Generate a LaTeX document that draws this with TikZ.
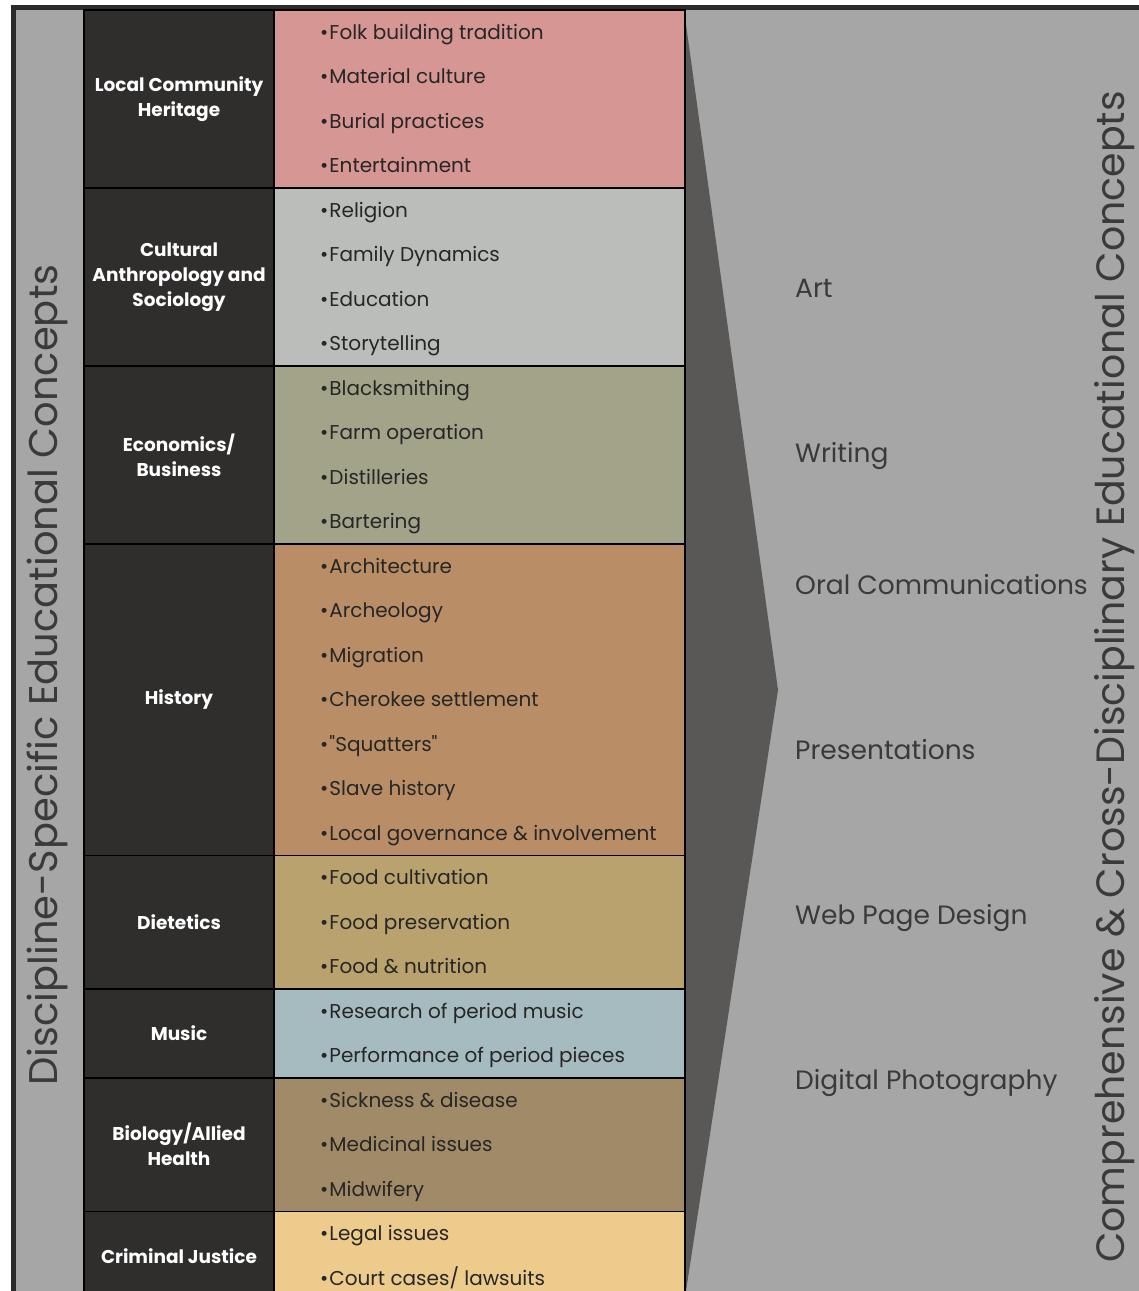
\documentclass[tikz,border=0pt]{standalone}
\usepackage{fontspec}
\setmainfont{Poppins}
\usetikzlibrary{positioning}

\definecolor{framedark}{HTML}{2B2B2B}
\definecolor{sidegray}{HTML}{A6A6A6}
\definecolor{chevgray}{HTML}{595857}
\definecolor{catdark}{HTML}{2F2E2D}
\definecolor{itemtext}{HTML}{262626}
\definecolor{labeltext}{HTML}{3A3A3A}
\definecolor{bandpink}{HTML}{D69794}
\definecolor{bandgray}{HTML}{BBBDBB}
\definecolor{bandolive}{HTML}{A3A38A}
\definecolor{bandtan}{HTML}{B98E66}
\definecolor{bandgold}{HTML}{B9A26D}
\definecolor{bandblue}{HTML}{A5BBC0}
\definecolor{bandbrown}{HTML}{A08A68}
\definecolor{bandsand}{HTML}{EDCB8D}

\tikzset{
  catlabel/.style={align=center, text=white, font=\fontsize{18.5}{25}\selectfont\bfseries},
  item/.style={anchor=west, inner sep=0pt, text height=14pt, text depth=5pt,
    text=itemtext, font=\fontsize{20}{22}\selectfont},
  crosslabel/.style={anchor=west, inner sep=0pt, text height=18pt, text depth=6pt,
    text=labeltext, font=\fontsize{26.5}{28}\selectfont},
  sidetitle/.style={rotate=90, inner sep=0pt, text=labeltext, font=\fontsize{40}{42}\selectfont}
}

\begin{document}
\begin{tikzpicture}[x=1pt,y=-1pt]
  \useasboundingbox (0,0) rectangle (1139,1291);
  \begin{scope}
    \clip (0,0) rectangle (1139,1291);

    % Frame and grey backgrounds
    \fill[framedark] (11,5) rectangle (1139,1291);
    \fill[sidegray] (16,10) rectangle (84,1291);
    \fill[sidegray] (685,10) rectangle (1139,1291);

    % Chevron between the two halves
    \fill[chevgray] (680,10) -- (684,10) -- (778,690) -- (686,1291) -- (680,1291) -- cycle;

    % Discipline rows: first item / last item / colour / name / label
    \foreach \a/\b/\col/\nm/\lbl in {
        0/4/bandpink/local/{Local Community\\Heritage},
        4/8/bandgray/cult/{Cultural\\Anthropology and\\Sociology},
        8/12/bandolive/econ/{Economics/\\Business},
        12/19/bandtan/hist/{History},
        19/22/bandgold/diet/{Dietetics},
        22/24/bandblue/music/{Music},
        24/27/bandbrown/bio/{Biology/Allied\\Health},
        27/29/bandsand/crim/{Criminal Justice}}{
      \filldraw[fill=catdark, draw=black, line width=1.5pt]
        (84,{10+\a*44.5}) rectangle (274,{10+\b*44.5});
      \filldraw[fill=\col, draw=black, line width=1.5pt]
        (274,{10+\a*44.5}) rectangle (685,{10+\b*44.5});
      \node[catlabel] (\nm) at (179,{10+(\a+\b)/2*44.5}) {\lbl};
    }

    % Topic items
    \foreach \txt [count=\i from 0] in {
        Folk building tradition, Material culture, Burial practices, Entertainment,
        Religion, Family Dynamics, Education, Storytelling,
        Blacksmithing, Farm operation, Distilleries, Bartering,
        Architecture, Archeology, Migration, Cherokee settlement,
        \textquotedbl Squatters\textquotedbl, Slave history, Local governance \& involvement,
        Food cultivation, Food preservation, Food \& nutrition,
        Research of period music, Performance of period pieces,
        Sickness \& disease, Medicinal issues, Midwifery,
        Legal issues, Court cases/ lawsuits}{
      \node[item] (item\i) at (320,{12.5+(\i+0.5)*44.5}) {\textbullet\kern1pt\txt};
    }

    % Cross-disciplinary concepts
    \node[crosslabel] (art) at (795,291) {Art};
    \node[crosslabel] (writing) at (795,456) {Writing};
    \node[crosslabel] (oral) at (795,588) {Oral Communications};
    \node[crosslabel] (pres) at (795,753) {Presentations};
    \node[crosslabel] (web) at (795,918) {Web Page Design};
    \node[crosslabel] (photo) at (795,1083) {Digital Photography};

    % Side titles
    \node[sidetitle] (disc) at (47,675) {Discipline-Specific Educational Concepts};
    \node[sidetitle, font=\fontsize{39.5}{42}\selectfont] (comp) at (1115,677)
      {Comprehensive \& Cross-Disciplinary Educational Concepts};
  \end{scope}
\end{tikzpicture}
\end{document}
